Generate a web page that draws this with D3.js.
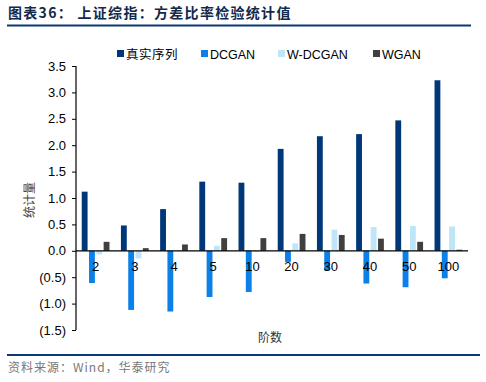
<!DOCTYPE html>
<html>
<head>
<meta charset="utf-8">
<script src="https://cdn.jsdelivr.net/npm/d3@7"></script>
<style>
  html, body { margin: 0; padding: 0; background: #fff; }
  svg { display: block; }
</style>
</head>
<body>
<svg id="chart" width="486" height="382"></svg>
<script>
const categories = ["2", "3", "4", "5", "10", "20", "30", "40", "50", "100"];
const seriesNames = ["真实序列", "DCGAN", "W-DCGAN", "WGAN"];
const realSeries = [1.12, 0.48, 0.79, 1.31, 1.29, 1.93, 2.17, 2.21, 2.47, 3.23];
const dcgan      = [-0.61, -1.12, -1.15, -0.875, -0.78, -0.21, -0.37, -0.62, -0.69, -0.52];
const wdcgan     = [-0.07, -0.145, -0.01, 0.095, -0.02, 0.14, 0.40, 0.45, 0.47, 0.46];
const wgan       = [0.17, 0.05, 0.12, 0.24, 0.24, 0.32, 0.30, 0.23, 0.17, 0.02];
const yTicks = [-1.5, -1.0, -0.5, 0, 0.5, 1.0, 1.5, 2.0, 2.5, 3.0, 3.5];
const colors = ["#003778", "#0A80E8", "#BEE5F8", "#404040"];

const seriesValues = [realSeries, dcgan, wdcgan, wgan];
const svg = d3.select("#chart");
const latin = "'Liberation Sans', Arial, sans-serif";
const cjk = "'Noto Sans CJK SC', sans-serif";

// Title
svg.append("text").attr("x", 8).attr("y", 18)
  .attr("font-family", cjk).attr("font-weight", "bold").attr("font-size", 14)
  .attr("letter-spacing", 1.3)
  .attr("fill", "#13294B").text("图表36：  上证综指：方差比率检验统计值");
svg.append("line").attr("x1", 7).attr("x2", 471).attr("y1", 25.5).attr("y2", 25.5)
  .attr("stroke", "#0B3A73").attr("stroke-width", 2);

// Scales
const x0 = d3.scaleBand().domain(categories).range([76, 468])
  .paddingInner(0.255).paddingOuter(0.1275);
const x1 = d3.scaleBand().domain(seriesNames).range([0, x0.bandwidth()])
  .paddingInner(0.2).paddingOuter(0.1);
const y = d3.scaleLinear().domain([-1.5, 3.5]).range([330, 66]);

const fmt = v => {
  const s = Math.abs(v).toFixed(1);
  return v < 0 ? "(" + s + ")" : s;
};

// Bars
seriesNames.forEach((name, si) => {
  svg.append("g").selectAll("rect")
    .data(categories.map((c, i) => ({ c, v: seriesValues[si][i] })))
    .join("rect")
    .attr("x", d => x0(d.c) + x1(name))
    .attr("width", x1.bandwidth())
    .attr("y", d => Math.min(y(d.v), y(0)))
    .attr("height", d => Math.abs(y(d.v) - y(0)))
    .attr("fill", colors[si]);
});

// Y axis
const yAxis = d3.axisLeft(y).tickValues(yTicks).tickFormat(fmt).tickSize(4).tickPadding(6);
const gy = svg.append("g").attr("transform", "translate(76,0)").call(yAxis);
gy.select(".domain").attr("stroke", "#000").attr("stroke-width", 1.2).attr("d", "M0,66V330");
gy.selectAll(".tick line").attr("stroke", "#000");
gy.selectAll("text").attr("font-family", latin).attr("font-size", 13).attr("fill", "#000");

// X axis line at zero
svg.append("line").attr("x1", 76).attr("x2", 468).attr("y1", y(0)).attr("y2", y(0))
  .attr("stroke", "#000").attr("stroke-width", 1.2);

// X labels
const xAxis = d3.axisBottom(x0).tickSize(0).tickPadding(0);
const gx = svg.append("g").attr("transform", "translate(0,271)").call(xAxis);
gx.select(".domain").remove();
gx.selectAll("text").attr("font-family", latin).attr("font-size", 13).attr("fill", "#000")
  .attr("dy", 0);

// Axis titles
svg.append("text").attr("x", 270).attr("y", 342).attr("text-anchor", "middle")
  .attr("font-family", cjk).attr("font-size", 12).attr("fill", "#333").text("阶数");
svg.append("text").attr("transform", "translate(34,200) rotate(-90)").attr("text-anchor", "middle")
  .attr("font-family", cjk).attr("font-size", 12).attr("fill", "#444").text("统计量");

// Legend
const legendX = [117, 201, 278, 373];
seriesNames.forEach((name, i) => {
  svg.append("rect").attr("x", legendX[i]).attr("y", 50).attr("width", 7).attr("height", 7)
    .attr("fill", colors[i]);
  svg.append("text").attr("x", legendX[i] + 9).attr("y", 58.5)
    .attr("font-family", i === 0 ? cjk : latin).attr("font-size", 12.5).attr("fill", "#000")
    .attr("letter-spacing", i === 0 ? 0.5 : 0)
    .text(name);
});

// Bottom line & source
svg.append("line").attr("x1", 7).attr("x2", 480).attr("y1", 355).attr("y2", 355)
  .attr("stroke", "#0B3A73").attr("stroke-width", 2);
svg.append("text").attr("x", 8).attr("y", 372)
  .attr("font-family", cjk).attr("font-size", 12).attr("fill", "#777")
  .attr("letter-spacing", 1)
  .text("资料来源：Wind，华泰研究");
</script>
</body>
</html>
